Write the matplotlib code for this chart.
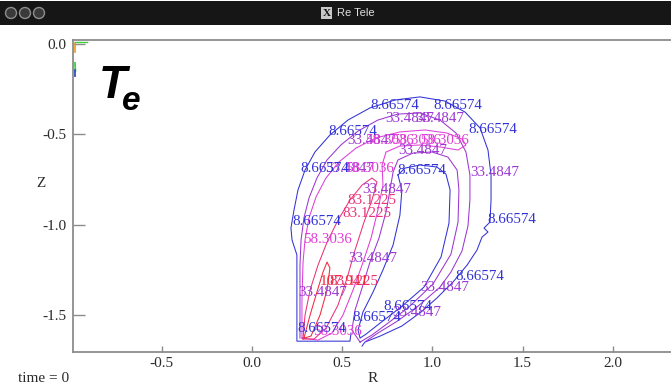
import matplotlib
matplotlib.use("Agg")
import matplotlib.pyplot as plt
from matplotlib.patches import Rectangle, Ellipse

plt.rcParams['font.family'] = ['Liberation Serif', 'DejaVu Serif']

W, H = 671, 386

# contour levels of T_e and their colours
levels = [8.66574, 33.4847, 58.3036, 83.1225, 107.941]
level_colors = ['#3232d6', '#9c36d2', '#e03ed6', '#ea3278', '#f02a3c']

# ---- contour traces (R, Z) ----
# level 8.66574, outer boundary
te8_outer_R = [0.610, 0.626, 0.710, 0.831, 0.937, 1.025, 1.114, 1.192, 1.247, 1.275,
               1.308, 1.286, 1.319, 1.325, 1.325, 1.308, 1.264, 1.181, 1.070, 0.931,
               0.793, 0.654, 0.532, 0.432, 0.349, 0.294, 0.255, 0.233, 0.216, 0.222,
               0.249, 0.249, 0.249, 0.543, 0.549]
te8_outer_Z = [-1.672, -1.650, -1.617, -1.561, -1.484, -1.406, -1.318, -1.224, -1.141, -1.069,
               -1.041, -1.019, -0.986, -0.864, -0.725, -0.587, -0.465, -0.377, -0.316, -0.293,
               -0.310, -0.354, -0.421, -0.504, -0.598, -0.698, -0.808, -0.919, -1.019, -1.085,
               -1.168, -1.417, -1.645, -1.645, -1.600]
# level 8.66574, inner cold region
te8_inner_R = [0.809, 0.848, 0.931, 1.025, 1.075, 1.098, 1.092, 1.048, 0.953, 0.826,
               0.710, 0.632, 0.599, 0.588, 0.615, 0.671, 0.726, 0.782, 0.820, 0.831, 0.809]
te8_inner_Z = [-0.725, -0.687, -0.670, -0.681, -0.720, -0.808, -0.991, -1.179, -1.346, -1.456,
               -1.545, -1.606, -1.628, -1.584, -1.484, -1.373, -1.251, -1.113, -0.947, -0.808, -0.725]
# level 33.4847, outer
te33_outer_R = [0.266, 0.266, 0.266, 0.272, 0.288, 0.316, 0.360, 0.416, 0.493, 0.588,
                0.698, 0.809, 0.931, 1.042, 1.131, 1.186, 1.208, 1.208, 1.197, 1.164,
                1.103, 1.042, 0.915, 0.798, 0.698, 0.632]
te33_outer_Z = [-1.628, -1.417, -1.224, -1.085, -0.963, -0.853, -0.742, -0.642, -0.559, -0.482,
                -0.421, -0.388, -0.382, -0.421, -0.493, -0.598, -0.725, -0.864, -1.008, -1.146,
                -1.262, -1.346, -1.456, -1.539, -1.600, -1.645]
# level 33.4847, inner
te33_inner_R = [0.599, 0.554, 0.571, 0.610, 0.654, 0.704, 0.743, 0.765, 0.782, 0.809,
                0.892, 0.998, 1.086, 1.137, 1.147, 1.142, 1.103, 1.003, 0.870, 0.754,
                0.665, 0.599]
te33_inner_Z = [-1.650, -1.584, -1.473, -1.351, -1.207, -1.074, -0.930, -0.808, -0.709, -0.642,
                -0.604, -0.598, -0.626, -0.698, -0.808, -0.986, -1.163, -1.329, -1.456, -1.545,
                -1.611, -1.650]
# level 58.3036
te58_R = [0.277, 0.277, 0.283, 0.294, 0.316, 0.355, 0.410, 0.482, 0.577, 0.687,
          0.820, 0.959, 1.081, 1.164, 1.186, 1.142, 1.042, 0.931, 0.820, 0.743,
          0.721, 0.726, 0.698, 0.660, 0.610, 0.560, 0.504, 0.443, 0.366, 0.277]
te58_Z = [-1.628, -1.417, -1.207, -1.085, -0.963, -0.847, -0.742, -0.653, -0.576, -0.520,
          -0.487, -0.476, -0.493, -0.526, -0.559, -0.587, -0.570, -0.559, -0.565, -0.598,
          -0.670, -0.781, -0.919, -1.074, -1.224, -1.362, -1.501, -1.600, -1.639, -1.628]
# level 83.1225
te83_R = [0.283, 0.294, 0.322, 0.366, 0.416, 0.477, 0.543, 0.610, 0.665, 0.693,
          0.665, 0.621, 0.571, 0.527, 0.477, 0.410, 0.344, 0.283]
te83_Z = [-1.633, -1.501, -1.362, -1.224, -1.097, -0.975, -0.864, -0.781, -0.742, -0.764,
          -0.864, -0.986, -1.141, -1.296, -1.445, -1.573, -1.633, -1.633]
# level 107.941
te107_R = [0.288, 0.322, 0.360, 0.394, 0.416, 0.432, 0.416, 0.377, 0.327, 0.288]
te107_Z = [-1.628, -1.501, -1.373, -1.262, -1.207, -1.240, -1.362, -1.501, -1.617, -1.628]

# short traces near the upper-left corner
edge_orange_R, edge_orange_Z = [-0.981, -0.981], [0.006, -0.044]
edge_green_R, edge_green_Z = [-0.981, -0.915], [0.011, 0.011]
edge_green2_R, edge_green2_Z = [-0.981, -0.979], [-0.105, -0.150]
edge_blue_R, edge_blue_Z = [-0.980, -0.980], [-0.144, -0.177]

traces = [
    (0, te8_outer_R, te8_outer_Z),
    (0, te8_inner_R, te8_inner_Z),
    (1, te33_outer_R, te33_outer_Z),
    (1, te33_inner_R, te33_inner_Z),
    (2, te58_R, te58_Z),
    (3, te83_R, te83_Z),
    (4, te107_R, te107_Z),
]

# ---- contour label anchors (left edge) ----
lab8_R = [0.654, 1.003, 1.197, 0.421, 0.266, 0.804, 0.222, 1.303, 1.125, 0.726, 0.554, 0.249]
lab8_Z = [-0.343, -0.343, -0.471, -0.482, -0.692, -0.703, -0.980, -0.969, -1.285, -1.451, -1.512, -1.573]
lab33_R = [0.737, 0.904, 0.527, 0.809, 1.208, 0.610, 0.532, 0.255, 0.931, 0.776, 0.405]
lab33_Z = [-0.415, -0.415, -0.537, -0.587, -0.709, -0.803, -1.190, -1.373, -1.346, -1.484, -0.692]
lab58_R = [0.283, 0.338, 0.626, 0.776, 0.931, 0.516]
lab58_Z = [-1.080, -1.589, -0.537, -0.537, -0.537, -0.692]
lab83_R = [0.527, 0.499, 0.427]
lab83_Z = [-0.869, -0.936, -1.312]
lab107_R = [0.377]
lab107_Z = [-1.312]

label_sets = [
    (1, lab33_R, lab33_Z),
    (2, lab58_R, lab58_Z),
    (3, lab83_R, lab83_Z),
    (4, lab107_R, lab107_Z),
    (0, lab8_R, lab8_Z),
]

x_ticks = [-0.5, 0.0, 0.5, 1.0, 1.5, 2.0]
x_tick_labels = ['-0.5', '0.0', '0.5', '1.0', '1.5', '2.0']
y_ticks = [0.0, -0.5, -1.0, -1.5]
y_tick_labels = ['0.0', '-0.5', '-1.0', '-1.5']


def fx(x):
    return x / W


def fy(y):
    return 1 - y / H


fig = plt.figure(figsize=(W / 100, H / 100), dpi=100)
fig.patch.set_facecolor('white')

# window title bar
bar_top, bar_bot = 1, 25
fig.add_artist(Rectangle((0, fy(bar_bot)), 1, (bar_bot - bar_top) / H,
                         transform=fig.transFigure, facecolor='#161616',
                         edgecolor='none', zorder=5))
for cx in (11, 25, 39):
    fig.add_artist(Ellipse((fx(cx), fy(13)), 11 / W, 11 / H, transform=fig.transFigure,
                           facecolor='#3a3a3a', edgecolor='#8e8e8e', lw=1.0, zorder=6))
fig.add_artist(Rectangle((fx(321), fy(19)), 11 / W, 12 / H, transform=fig.transFigure,
                         facecolor='#c8c8c8', edgecolor='none', zorder=6))
fig.text(fx(326.5), fy(13), 'X', ha='center', va='center', fontsize=8,
         fontweight='bold', color='#111111', zorder=7)
fig.text(fx(337), fy(13), 'Re Tele', ha='left', va='center', fontsize=8,
         family=['Liberation Sans', 'DejaVu Sans'], color='#e0e0e0', zorder=7)

# main axes
ax_l, ax_r, ax_t, ax_b = 73, 720, 40, 352
ax = fig.add_axes([fx(ax_l), fy(ax_b), (ax_r - ax_l) / W, (ax_b - ax_t) / H])
ax.set_xlim(-0.992, 2.594)
ax.set_ylim(-1.705, 0.022)
ax.set_facecolor('white')

for side in ('left', 'bottom', 'top'):
    ax.spines[side].set_color('#8c8c8c')
    ax.spines[side].set_linewidth(1.3)
ax.spines['right'].set_visible(False)

ax.set_xticks(x_ticks)
ax.set_xticklabels(x_tick_labels)
ax.set_yticks(y_ticks)
ax.set_yticklabels(y_tick_labels)
ax.tick_params(axis='x', direction='in', length=4.2, width=1.0, color='#8c8c8c',
               pad=3.6, labelsize=11, labelcolor='#2a2a2a')
ax.tick_params(axis='y', direction='in', length=8.6, width=1.0, color='#8c8c8c',
               pad=4.5, labelsize=11, labelcolor='#2a2a2a')

for lev, rr, zz in traces:
    ax.plot(rr, zz, color=level_colors[lev], lw=0.75, solid_joinstyle='round')

ax.plot(edge_orange_R, edge_orange_Z, color='#e89a20', lw=1.2)
ax.plot(edge_green_R, edge_green_Z, color='#3ed03e', lw=1.0)
ax.plot(edge_green2_R, edge_green2_Z, color='#3ed03e', lw=1.3)
ax.plot(edge_blue_R, edge_blue_Z, color='#3050c0', lw=1.3)

for lev, rr, zz in label_sets:
    for r, z in zip(rr, zz):
        ax.text(r, z, f'{levels[lev]:g}', color=level_colors[lev], fontsize=10.8,
                ha='left', va='center', clip_on=True)

# big T_e tag
fig.text(fx(99), fy(98), 'T', fontsize=33, fontweight='bold', style='italic',
         family=['Liberation Sans', 'DejaVu Sans'], color='black', va='baseline')
fig.text(fx(122), fy(110), 'e', fontsize=24, fontweight='bold', style='italic',
         family=['Liberation Sans', 'DejaVu Sans'], color='black', va='baseline')

# axis titles and time stamp
fig.text(fx(41), fy(184), 'Z', ha='center', va='center', fontsize=11, color='#2a2a2a')
fig.text(fx(373), fy(378), 'R', ha='center', va='center', fontsize=11, color='#2a2a2a')
fig.text(fx(18), fy(378), 'time = 0', ha='left', va='center', fontsize=11, color='#2a2a2a')

fig.savefig('out.png', dpi=100, facecolor='white')
